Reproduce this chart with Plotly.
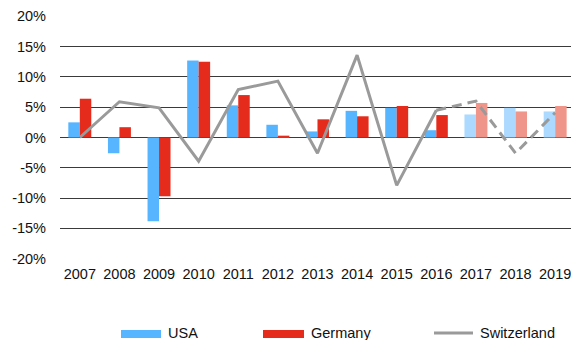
import plotly.graph_objects as go

# Annual growth rates (%), 2017-2019 are forecasts
years = ["2007", "2008", "2009", "2010", "2011", "2012", "2013",
         "2014", "2015", "2016", "2017", "2018", "2019"]
usa = [2.5, -2.6, -13.8, 12.7, 5.3, 2.1, 1.0, 4.4, 4.9, 1.2, 3.8, 4.9, 4.3]
germany = [6.4, 1.7, -9.7, 12.5, 7.0, 0.3, 3.0, 3.5, 5.2, 3.7, 5.7, 4.3, 5.2]
switzerland = [0.0, 5.9, 4.9, -3.9, 7.9, 9.3, -2.6, 13.6, -7.9, 4.5, 6.0, -2.6, 4.1]
n_actual = 10  # first forecast year index (2017)

BLUE, BLUE_LIGHT = "#57B4FF", "#ABD9FF"
RED, RED_LIGHT = "#E52B1B", "#F0958A"
GREY = "#9A9A9A"
FONT = "Liberation Sans, Arial, sans-serif"

W, H = 571, 340
M_L, M_R, M_T, M_B = 60, 0, 16, 81

usa_colors = [BLUE if i < n_actual else BLUE_LIGHT for i in range(len(years))]
ger_colors = [RED if i < n_actual else RED_LIGHT for i in range(len(years))]

fig = go.Figure()
fig.add_trace(go.Bar(x=years, y=usa, name="USA", marker=dict(color=usa_colors, line_width=0)))
fig.add_trace(go.Bar(x=years, y=germany, name="Germany", marker=dict(color=ger_colors, line_width=0)))
fig.add_trace(go.Scatter(x=years[:n_actual], y=switzerland[:n_actual], mode="lines",
                         name="Switzerland", line=dict(color=GREY, width=3)))
fig.add_trace(go.Scatter(x=years[n_actual - 1:], y=switzerland[n_actual - 1:], mode="lines",
                         showlegend=False, line=dict(color=GREY, width=3, dash="10px,6px")))

ph = H - M_T - M_B


def py(p):
    """Pixel row -> paper y."""
    return (H - M_B - p) / ph


def px(p):
    """Pixel column -> paper x."""
    return (p - M_L) / (W - M_L - M_R)


shapes, annotations = [], []
legend_items = [("USA", BLUE, "bar", 121, 161), ("Germany", RED, "bar", 263, 304),
                ("Switzerland", GREY, "line", 434, 473)]
for label, color, kind, x0, x1 in legend_items:
    if kind == "bar":
        shapes.append(dict(type="rect", xref="paper", yref="paper", x0=px(x0), x1=px(x1),
                           y0=py(338), y1=py(330), fillcolor=color, line_width=0))
    else:
        shapes.append(dict(type="line", xref="paper", yref="paper", x0=px(x0), x1=px(x1),
                           y0=py(333), y1=py(333), line=dict(color=color, width=3)))
    annotations.append(dict(text=label, xref="paper", yref="paper", x=px(x1 + 5), y=py(333.5),
                            xanchor="left", yanchor="middle", showarrow=False,
                            font=dict(family=FONT, size=14.5, color="#111")))

fig.update_layout(
    width=W, height=H,
    margin=dict(l=M_L, r=M_R, t=M_T, b=M_B),
    paper_bgcolor="white", plot_bgcolor="white",
    barmode="group", bargap=0.42, bargroupgap=0,
    showlegend=False,
    shapes=shapes, annotations=annotations,
    font=dict(family=FONT, size=14.5, color="#111"),
    xaxis=dict(range=[-0.5, 12.4], showgrid=False, showline=False, zeroline=False,
               ticks="", tickfont=dict(size=14.5), ticklabelstandoff=4),
    yaxis=dict(range=[-20.05, 20.05], tickvals=[-20, -15, -10, -5, 0, 5, 10, 15, 20],
               ticktext=["-20%", "-15%", "-10%", "-5%", "0%", "5%", "10%", "15%", "20%"],
               showgrid=True, gridcolor="#3a3a3a", gridwidth=1, zeroline=False,
               showline=False, ticks="", ticklabelstandoff=13, tickfont=dict(size=14.5)),
)

fig.write_html("out.html")
